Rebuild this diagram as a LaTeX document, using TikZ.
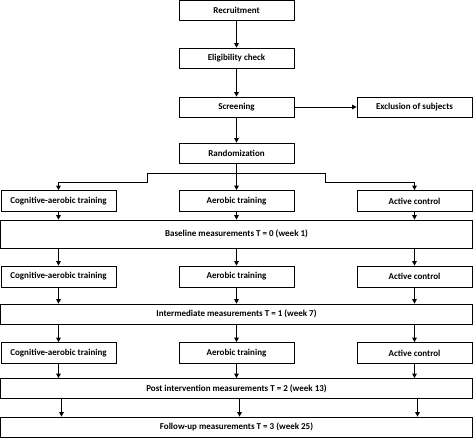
\documentclass[tikz,border=0pt]{standalone}
\usepackage{fontspec}
\setmainfont{Carlito}
\usepackage{tikz}
\usetikzlibrary{arrows.meta}

\tikzset{
  box/.style={draw, line width=0.7pt, inner sep=0pt, minimum width=115pt,
              minimum height=20pt, font=\bfseries\fontsize{9}{10}\selectfont},
  wide/.style={box, minimum width=472pt},
  arr/.style={line width=0.9pt, -{Triangle[length=4.5pt,width=4.5pt]}}
}

\begin{document}
\begin{tikzpicture}[x=1pt, y=-1pt]
    \useasboundingbox (0,0) rectangle (473,438);

    % enrolment
    \node[box] (rec) at (236.5,10.5) {Recruitment};
    \node[box] (elig) at (236.5,58) {Eligibility check};
    \node[box] (scr) at (236.5,107) {Screening};
    \node[box] (excl) at (414.5,107) {Exclusion of subjects};
    \node[box] (rand) at (236.5,153) {Randomization};

    % groups and measurements
    \foreach \r/\y in {1/201, 2/276.5, 3/353} {
        \node[box, minimum height=21pt] (cog\r) at (58.5,\y) {Cognitive-aerobic training};
        \node[box, minimum height=21pt] (aer\r) at (236.5,\y) {Aerobic training};
        \node[box, minimum height=21pt] (ctl\r) at (414.5,\y) {Active control};
    }
    \node[wide, minimum height=28pt] (base) at (236.5,234) {Baseline measurements T = 0 (week 1)};
    \node[wide] (inter) at (236.5,314) {Intermediate measurements T = 1 (week 7)};
    \node[wide] (post) at (236.5,388.5) {Post intervention measurements T = 2 (week 13)};
    \node[wide] (follow) at (236.5,427) {Follow-up measurements T = 3 (week 25)};

    \draw[arr, line width=1.3pt] (rec) -- (elig);
    \draw[arr] (elig) -- (scr);
    \draw[arr, line width=1.3pt] (scr) -- (rand);
    \draw[arr] (scr) -- (excl);

    % randomization split
    \coordinate (split) at (236.5,173);
    \draw[arr] (rand) -- (aer1);
    \draw[arr] (split) -- ++(-89.5,0) -- ++(0,9) -| (cog1.north);
    \draw[arr] (split) -- ++(88.5,0) -- ++(0,9) -| (ctl1.north);

    \foreach \g in {cog, aer, ctl} {
        \draw[arr] (\g1.south) -- (\g1.south |- base.north);
        \draw[arr] (\g2.north |- base.south) -- (\g2.north);
        \draw[arr] (\g2.south) -- (\g2.south |- inter.north);
        \draw[arr] (\g3.north |- inter.south) -- (\g3.north);
        \draw[arr] (\g3.south) -- (\g3.south |- post.north);
        \draw[arr] ([xshift=3pt]\g3.south |- post.south) -- ([xshift=3pt]\g3.south |- follow.north);
    }
\end{tikzpicture}
\end{document}
